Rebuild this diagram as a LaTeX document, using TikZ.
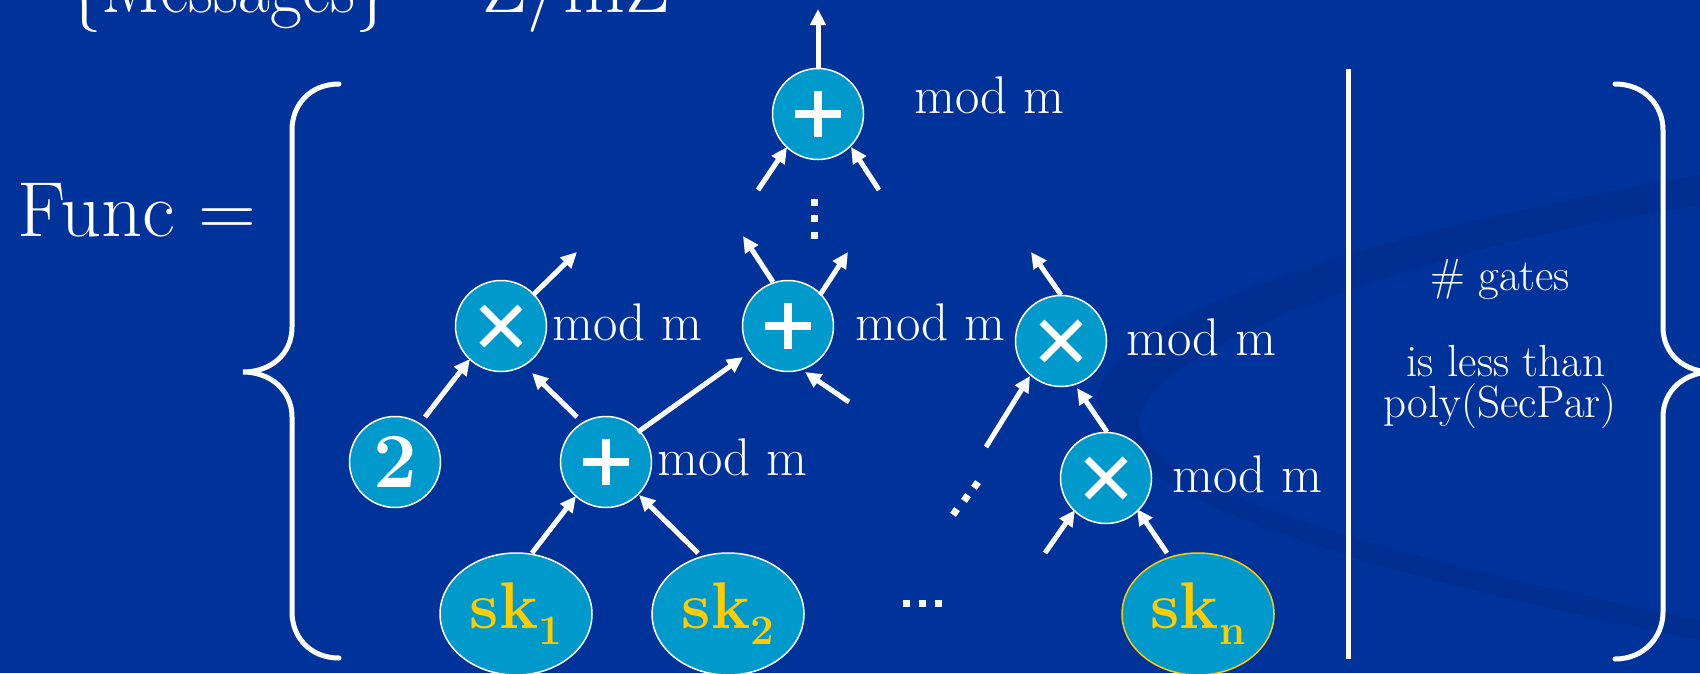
\documentclass[tikz,border=0pt]{standalone}
\usetikzlibrary{arrows.meta,shapes.geometric}
\definecolor{bgblue}{RGB}{0,51,153}
\definecolor{bgdark}{RGB}{0,47,145}
\definecolor{gatefill}{RGB}{0,153,204}
\definecolor{skgold}{RGB}{255,204,0}
\newcommand\skidx[1]{\raisebox{-16pt}{\fontsize{42}{42}\selectfont #1}}
\begin{document}
\begin{tikzpicture}[x=1pt,y=-1pt,
 gate/.style={circle, fill=gatefill, draw=white, line width=1.5pt, minimum size=91pt, inner sep=0pt},
 plusgate/.style={gate, path picture={
   \draw[white,line width=8.5pt] ([xshift=-23pt]path picture bounding box.center) -- ([xshift=23pt]path picture bounding box.center);
   \draw[white,line width=8.5pt] ([yshift=-23pt]path picture bounding box.center) -- ([yshift=23pt]path picture bounding box.center);}},
 timesgate/.style={gate, path picture={
   \draw[white,line width=7pt] ([shift={(-19pt,-19pt)}]path picture bounding box.center) -- ([shift={(19pt,19pt)}]path picture bounding box.center);
   \draw[white,line width=7pt] ([shift={(-19pt,19pt)}]path picture bounding box.center) -- ([shift={(19pt,-19pt)}]path picture bounding box.center);}},
 skkey/.style={ellipse, fill=gatefill, draw=white, line width=1.5pt, minimum width=152pt, minimum height=122pt, inner sep=0pt, text=skgold, font=\fontsize{66}{66}\selectfont\bfseries},
 arr/.style={white, line width=5pt, -{Triangle[length=16pt,width=15pt]}},
 modtxt/.style={anchor=base west, inner sep=0pt, text=white, font=\fontsize{53}{53}\selectfont},
 sidetxt/.style={anchor=base, inner sep=0pt, text=white, font=\fontsize{45}{45}\selectfont},
 bigtxt/.style={inner sep=0pt, text=white, font=\fontsize{80}{80}\selectfont},
 bracepath/.style={white, line width=5pt, line cap=round},
]
\useasboundingbox (0,0) rectangle (1700,673);
\fill[bgblue] (0,0) rectangle (1700,673);
% background swoosh
\fill[bgdark] (1700,175) .. controls (1350,235) and (1060,330) .. (1100,420)
  .. controls (1150,520) and (1450,590) .. (1700,640) -- (1700,620)
  .. controls (1450,570) and (1170,500) .. (1140,430)
  .. controls (1120,360) and (1400,250) .. (1700,205) -- cycle;

% title (cut off at top)
\node[bigtxt, anchor=base west] (title) at (67,12) {\scalebox{0.866}[1]{\{Messages\}}};
\node[bigtxt, anchor=base west] (zmz) at (482,12) {Z/mZ};
\node[inner sep=0pt, text=white, font=\fontsize{78}{78}\selectfont, anchor=base east] (func) at (257,236) {\scalebox{1.03}[1]{Func =}};

% braces and separator
\draw[bracepath] (339,84) .. controls (310,84) and (292,105) .. (292,130) -- (292,327)
  .. controls (292,355) and (270,372) .. (243,372)
  .. controls (270,372) and (292,390) .. (292,417) -- (292,612)
  .. controls (292,637) and (310,658) .. (339,658);
\draw[bracepath] (1615,84) .. controls (1644,84) and (1663,105) .. (1663,130) -- (1663,327)
  .. controls (1663,355) and (1685,372) .. (1712,372)
  .. controls (1685,372) and (1663,390) .. (1663,417) -- (1663,612)
  .. controls (1663,637) and (1644,659) .. (1615,659);
\draw[white, line width=5pt] (1348,69) -- (1348,659);

% gates
\node[plusgate] (toppl) at (818,114) {};
\node[plusgate] (plus1) at (788,326) {};
\node[timesgate] (mult1) at (501,326) {};
\node[timesgate] (mult2) at (1061,341) {};
\node[gate, text=white, font=\fontsize{78}{78}\selectfont\bfseries] (two) at (395,462) {2};
\node[plusgate] (plus2) at (606,462) {};
\node[timesgate] (mult3) at (1106,478) {};
\node[skkey] (sk1) at (516,614) {sk\skidx{1}};
\node[skkey] (sk2) at (728,614) {sk\skidx{2}};
\node[skkey, draw=skgold] (skn) at (1198,614) {sk\skidx{n}};

% mod m labels
\node[modtxt] (m0) at (914,113) {mod m};
\node[modtxt] (m1) at (552,340) {mod m};
\node[modtxt] (m2) at (855,340) {mod m};
\node[modtxt] (m3) at (1126,355) {mod m};
\node[modtxt] (m4) at (657,475) {mod m};
\node[modtxt] (m5) at (1172,492) {mod m};

% side text
\node[sidetxt] (g1) at (1500,290) {\# gates};
\node[sidetxt] (g2) at (1506,376) {is less than};
\node[sidetxt] (g3) at (1500,417) {poly(SecPar)};

% connectors
\coordinate (out) at (818,9);
\draw[arr] (toppl.north) -- (out);
\draw[arr] ([shift={(-60,76)}]toppl.center) -- ([shift={(-31,33)}]toppl.center);
\draw[arr] ([shift={(61,76)}]toppl.center) -- ([shift={(33,33)}]toppl.center);
\draw[arr] ([shift={(32,-31)}]mult1.center) -- ([shift={(76,-74)}]mult1.center);
\draw[arr] ([shift={(30,-45)}]two.center) -- ([shift={(-31,33)}]mult1.center);
\draw[arr] ([shift={(-29,-45)}]plus2.center) -- ([shift={(31,47)}]mult1.center);
\draw[arr] ([shift={(32,-30)}]plus2.center) -- ([shift={(-45,31)}]plus1.center);
\draw[arr] ([shift={(-15,-44)}]plus1.center) -- ([shift={(-45,-90)}]plus1.center);
\draw[arr] ([shift={(32,-31)}]plus1.center) -- ([shift={(60,-74)}]plus1.center);
\draw[arr] ([shift={(61,76)}]plus1.center) -- ([shift={(17,46)}]plus1.center);
\draw[arr] ([shift={(0,-46)}]mult2.center) -- ([shift={(-30,-89)}]mult2.center);
\draw[arr] ([shift={(-75,106)}]mult2.center) -- ([shift={(-31,35)}]mult2.center);
\draw[arr] ([shift={(1,-46)}]mult3.center) -- ([shift={(16,47)}]mult2.center);
\draw[arr] ([shift={(-61,75)}]mult3.center) -- ([shift={(-31,32)}]mult3.center);
\draw[arr] ([shift={(-31,-61)}]skn.center) -- ([shift={(31,31)}]mult3.center);
\draw[arr] ([shift={(16,-61)}]sk1.center) -- ([shift={(-30,34)}]plus2.center);
\draw[arr] ([shift={(-30,-61)}]sk2.center) -- ([shift={(33,33)}]plus2.center);

% ellipsis dots
\foreach \yy in {202,218,235} \fill[white] (811,\yy-3.5) rectangle ++(7,7);
\foreach \xx in {906,922,938} \fill[white] (\xx-3.5,599.5) rectangle ++(7,7);
\foreach \xx/\yy in {955/512,966/498,976/485} \fill[white,rotate around={-35:(\xx,\yy)}] (\xx-3.5,\yy-3.5) rectangle ++(7,7);
\end{tikzpicture}
\end{document}
